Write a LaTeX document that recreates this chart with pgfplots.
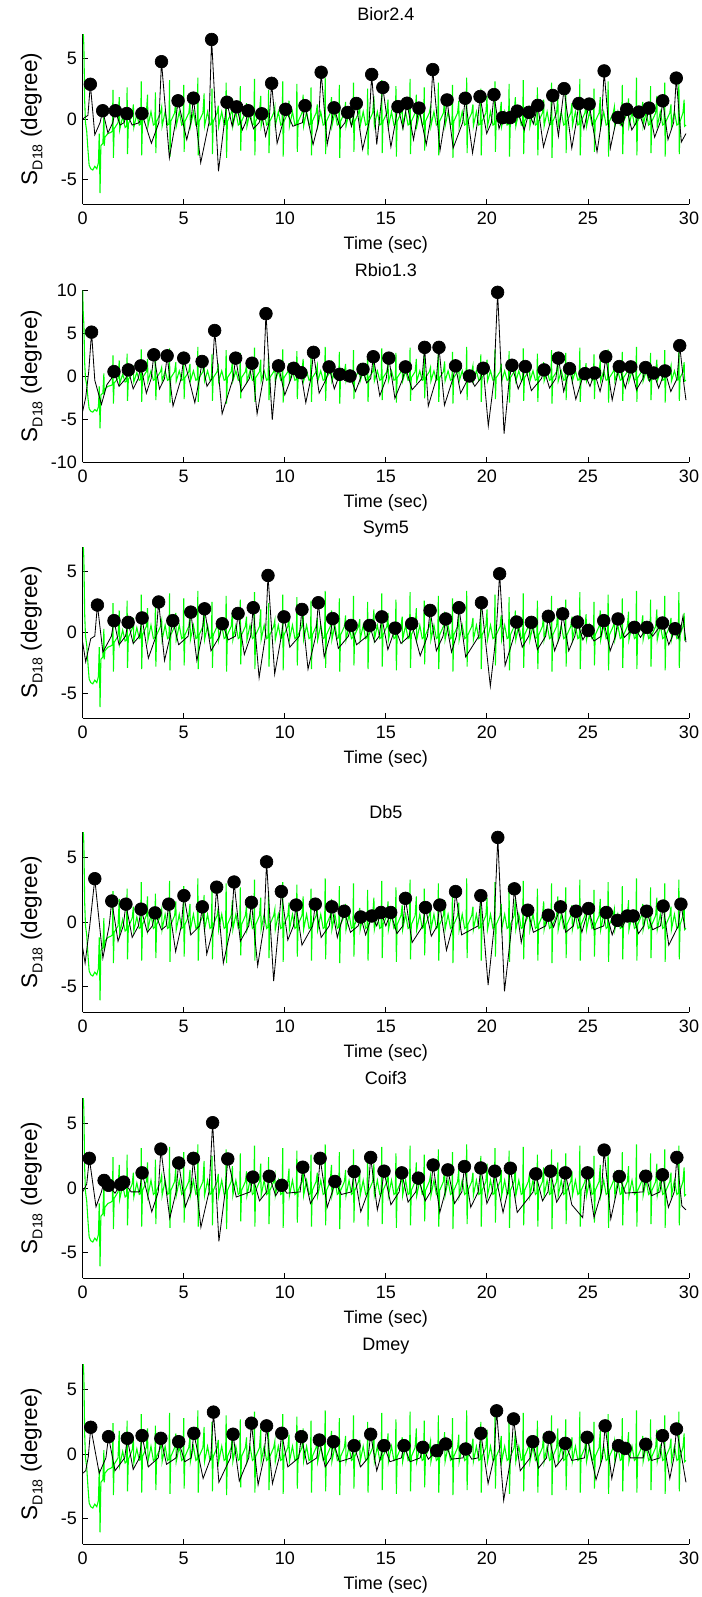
\documentclass[border=0pt]{standalone}
\usepackage{fontspec}
\setmainfont{Liberation Sans}
\usepackage{pgfplots}
\usepackage{pgfplotstable}
\pgfplotsset{compat=1.18}

% reference signal (green), same in all panels
\pgfplotstableread[row sep=\\]{
x y\\
0 10\\ 0.03 7.2\\ 0.06 6.0\\ 0.1 1.5\\ 0.14 -0.3\\ 0.2 -1.0\\ 0.26 -2.5\\ 0.32 -3.8\\ 0.4 -4.1\\ 0.5 -4.2\\ 0.6 -3.9\\ 0.7 -4.1\\ 0.78 -3.6\\ 0.82 -1.2\\ 0.86 -6.1\\ 0.9 -2.2\\ 1.0 -2.0\\ 1.05 0.3\\ 1.07 -2.2\\ 1.1 -1.5\\ 1.25 -1.2\\ 1.4 -1.1\\
1.47 -1.0\\ 1.5 2.4\\ 1.52 -3.2\\ 1.56 -0.8\\ 1.75 -0.3\\ 1.81 1.8\\ 1.83 -0.9\\ 1.98 0.2\\ 2.1 -0.7\\
2.17 -0.6\\ 2.2 2.6\\ 2.22 -2.9\\ 2.26 -0.4\\ 2.45 0.3\\ 2.51 1.2\\ 2.53 -0.7\\ 2.68 0.4\\ 2.8 -0.5\\
2.87 -0.4\\ 2.9 3.1\\ 2.92 -3.0\\ 2.96 -0.2\\ 3.15 0.5\\ 3.21 2.0\\ 3.23 -0.6\\ 3.38 0.6\\ 3.5 -0.5\\
3.57 -0.4\\ 3.6 2.2\\ 3.62 -2.8\\ 3.66 -0.2\\ 3.85 0.5\\ 3.91 1.0\\ 3.93 -0.6\\ 4.08 0.6\\ 4.2 -0.5\\
4.27 -0.4\\ 4.3 3.2\\ 4.32 -3.1\\ 4.36 -0.2\\ 4.55 0.5\\ 4.61 1.6\\ 4.63 -0.6\\ 4.78 0.6\\ 4.9 -0.5\\
4.97 -0.4\\ 5.0 2.8\\ 5.02 -2.7\\ 5.06 -0.2\\ 5.25 0.5\\ 5.31 1.4\\ 5.33 -0.6\\ 5.48 0.6\\ 5.6 -0.5\\
5.67 -0.4\\ 5.7 3.4\\ 5.72 -3.0\\ 5.76 -0.2\\ 5.95 0.5\\ 6.01 2.1\\ 6.03 -0.6\\ 6.18 0.6\\ 6.3 -0.5\\
6.37 -0.4\\ 6.4 2.5\\ 6.42 -2.9\\ 6.46 -0.2\\ 6.65 0.5\\ 6.71 1.1\\ 6.73 -0.6\\ 6.88 0.6\\ 7.0 -0.5\\
7.07 -0.4\\ 7.1 3.0\\ 7.12 -3.2\\ 7.16 -0.2\\ 7.35 0.5\\ 7.41 1.7\\ 7.43 -0.6\\ 7.58 0.6\\ 7.7 -0.5\\
7.77 -0.4\\ 7.8 2.7\\ 7.82 -2.6\\ 7.86 -0.2\\ 8.05 0.5\\ 8.11 1.3\\ 8.13 -0.6\\ 8.28 0.6\\ 8.4 -0.5\\
8.47 -0.4\\ 8.5 3.3\\ 8.52 -3.0\\ 8.56 -0.2\\ 8.75 0.5\\ 8.81 1.9\\ 8.83 -0.6\\ 8.98 0.6\\ 9.1 -0.5\\
9.17 -0.4\\ 9.2 2.4\\ 9.22 -2.8\\ 9.26 -0.2\\ 9.45 0.5\\ 9.51 1.0\\ 9.53 -0.6\\ 9.68 0.6\\ 9.8 -0.5\\
9.87 -0.4\\ 9.9 3.1\\ 9.92 -3.1\\ 9.96 -0.2\\ 10.15 0.5\\ 10.21 1.5\\ 10.23 -0.6\\ 10.38 0.6\\ 10.5 -0.5\\
10.57 -0.4\\ 10.6 2.9\\ 10.62 -2.7\\ 10.66 -0.2\\ 10.85 0.5\\ 10.91 2.0\\ 10.93 -0.6\\ 11.08 0.6\\ 11.2 -0.5\\
11.27 -0.4\\ 11.3 2.6\\ 11.32 -3.0\\ 11.36 -0.2\\ 11.55 0.5\\ 11.61 1.2\\ 11.63 -0.6\\ 11.78 0.6\\ 11.9 -0.5\\
11.97 -0.4\\ 12.0 3.4\\ 12.02 -2.9\\ 12.06 -0.2\\ 12.25 0.5\\ 12.31 1.8\\ 12.33 -0.6\\ 12.48 0.6\\ 12.6 -0.5\\
12.67 -0.4\\ 12.7 2.8\\ 12.72 -3.2\\ 12.76 -0.2\\ 12.95 0.5\\ 13.01 1.4\\ 13.03 -0.6\\ 13.18 0.6\\ 13.3 -0.5\\
13.37 -0.4\\ 13.4 3.0\\ 13.42 -2.7\\ 13.46 -0.2\\ 13.65 0.5\\ 13.71 1.1\\ 13.73 -0.6\\ 13.88 0.6\\ 14.0 -0.5\\
14.07 -0.4\\ 14.1 2.5\\ 14.12 -3.0\\ 14.16 -0.2\\ 14.35 0.5\\ 14.41 1.9\\ 14.43 -0.6\\ 14.58 0.6\\ 14.7 -0.5\\
14.77 -0.4\\ 14.8 3.2\\ 14.82 -2.8\\ 14.86 -0.2\\ 15.05 0.5\\ 15.11 1.6\\ 15.13 -0.6\\ 15.28 0.6\\ 15.4 -0.5\\
15.47 -0.4\\ 15.5 2.7\\ 15.52 -3.1\\ 15.56 -0.2\\ 15.75 0.5\\ 15.81 1.3\\ 15.83 -0.6\\ 15.98 0.6\\ 16.1 -0.5\\
16.17 -0.4\\ 16.2 3.3\\ 16.22 -2.9\\ 16.26 -0.2\\ 16.45 0.5\\ 16.51 2.0\\ 16.53 -0.6\\ 16.68 0.6\\ 16.8 -0.5\\
16.87 -0.4\\ 16.9 2.6\\ 16.92 -2.6\\ 16.96 -0.2\\ 17.15 0.5\\ 17.21 1.0\\ 17.23 -0.6\\ 17.38 0.6\\ 17.5 -0.5\\
17.57 -0.4\\ 17.6 3.0\\ 17.62 -3.0\\ 17.66 -0.2\\ 17.85 0.5\\ 17.91 1.7\\ 17.93 -0.6\\ 18.08 0.6\\ 18.2 -0.5\\
18.27 -0.4\\ 18.3 2.8\\ 18.32 -3.2\\ 18.36 -0.2\\ 18.55 0.5\\ 18.61 1.5\\ 18.63 -0.6\\ 18.78 0.6\\ 18.9 -0.5\\
18.97 -0.4\\ 19.0 3.4\\ 19.02 -2.8\\ 19.06 -0.2\\ 19.25 0.5\\ 19.31 1.2\\ 19.33 -0.6\\ 19.48 0.6\\ 19.6 -0.5\\
19.67 -0.4\\ 19.7 2.5\\ 19.72 -3.0\\ 19.76 -0.2\\ 19.95 0.5\\ 20.01 1.9\\ 20.03 -0.6\\ 20.18 0.6\\ 20.3 -0.5\\
20.37 -0.4\\ 20.4 3.1\\ 20.42 -2.7\\ 20.46 -0.2\\ 20.65 0.5\\ 20.71 1.4\\ 20.73 -0.6\\ 20.88 0.6\\ 21.0 -0.5\\
21.07 -0.4\\ 21.1 2.9\\ 21.12 -3.1\\ 21.16 -0.2\\ 21.35 0.5\\ 21.41 1.8\\ 21.43 -0.6\\ 21.58 0.6\\ 21.7 -0.5\\
21.77 -0.4\\ 21.8 3.2\\ 21.82 -2.9\\ 21.86 -0.2\\ 22.05 0.5\\ 22.11 1.1\\ 22.13 -0.6\\ 22.28 0.6\\ 22.4 -0.5\\
22.47 -0.4\\ 22.5 2.6\\ 22.52 -3.0\\ 22.56 -0.2\\ 22.75 0.5\\ 22.81 1.6\\ 22.83 -0.6\\ 22.98 0.6\\ 23.1 -0.5\\
23.17 -0.4\\ 23.2 3.0\\ 23.22 -3.2\\ 23.26 -0.2\\ 23.45 0.5\\ 23.51 2.0\\ 23.53 -0.6\\ 23.68 0.6\\ 23.8 -0.5\\
23.87 -0.4\\ 23.9 2.7\\ 23.92 -2.8\\ 23.96 -0.2\\ 24.15 0.5\\ 24.21 1.3\\ 24.23 -0.6\\ 24.38 0.6\\ 24.5 -0.5\\
24.57 -0.4\\ 24.6 3.3\\ 24.62 -3.0\\ 24.66 -0.2\\ 24.85 0.5\\ 24.91 1.5\\ 24.93 -0.6\\ 25.08 0.6\\ 25.2 -0.5\\
25.27 -0.4\\ 25.3 2.5\\ 25.32 -2.7\\ 25.36 -0.2\\ 25.55 0.5\\ 25.61 1.8\\ 25.63 -0.6\\ 25.78 0.6\\ 25.9 -0.5\\
25.97 -0.4\\ 26.0 3.1\\ 26.02 -3.1\\ 26.06 -0.2\\ 26.25 0.5\\ 26.31 1.0\\ 26.33 -0.6\\ 26.48 0.6\\ 26.6 -0.5\\
26.67 -0.4\\ 26.7 2.8\\ 26.72 -2.9\\ 26.76 -0.2\\ 26.95 0.5\\ 27.01 1.7\\ 27.03 -0.6\\ 27.18 0.6\\ 27.3 -0.5\\
27.37 -0.4\\ 27.4 3.4\\ 27.42 -3.0\\ 27.46 -0.2\\ 27.65 0.5\\ 27.71 1.4\\ 27.73 -0.6\\ 27.88 0.6\\ 28.0 -0.5\\
28.07 -0.4\\ 28.1 2.7\\ 28.12 -2.8\\ 28.16 -0.2\\ 28.35 0.5\\ 28.41 1.9\\ 28.43 -0.6\\ 28.58 0.6\\ 28.7 -0.5\\
28.77 -0.4\\ 28.8 3.0\\ 28.82 -3.1\\ 28.86 -0.2\\ 29.05 0.5\\ 29.11 1.2\\ 29.13 -0.6\\ 29.28 0.6\\ 29.4 -0.5\\
29.47 -0.4\\ 29.5 3.3\\ 29.52 -2.9\\ 29.56 -0.2\\ 29.7 0.5\\ 29.76 1.6\\ 29.78 -0.6\\ 29.85 -0.5\\
}\greentab

% Bior2.4
\pgfplotstableread[row sep=\\]{
x y d\\
0 0 nan\\ 0.26 0.3 nan\\ 0.38 2.86 2.86\\ 0.60 -1.3 nan\\
0.86 -0.3 nan\\ 0.99 0.68 0.68\\ 1.25 -1.15 nan\\
1.49 -0.3 nan\\ 1.62 0.68 0.68\\ 1.85 -0.5 nan\\
2.05 -0.3 nan\\ 2.18 0.45 0.45\\ 2.45 -0.5 nan\\
2.80 -0.3 nan\\ 2.93 0.45 0.45\\ 3.40 -2.0 nan\\
3.77 -0.3 nan\\ 3.90 4.72 4.72\\ 4.29 -3.2 nan\\
4.59 -0.3 nan\\ 4.72 1.50 1.50\\ 5.15 -1.7 nan\\
5.35 -0.3 nan\\ 5.48 1.72 1.72\\ 5.84 -3.6 nan\\
6.25 -0.3 nan\\ 6.38 6.55 6.55\\ 6.72 -4.3 nan\\
7.01 -0.3 nan\\ 7.14 1.38 1.38\\ 7.40 -0.6 nan\\
7.62 1.0 1.0\\ 7.90 -0.9 nan\\
8.06 -0.3 nan\\ 8.19 0.68 0.68\\ 8.45 -0.8 nan\\
8.73 -0.3 nan\\ 8.86 0.43 0.43\\ 9.05 -1.4 nan\\
9.22 -0.3 nan\\ 9.35 2.94 2.94\\ 9.62 -2.0 nan\\
9.91 -0.3 nan\\ 10.04 0.8 0.8\\ 10.4 -0.6 nan\\
10.87 -0.3 nan\\ 11.0 1.1 1.1\\ 11.4 -2.1 nan\\
11.67 -0.3 nan\\ 11.8 3.85 3.85\\ 12.1 -2.1 nan\\
12.31 -0.3 nan\\ 12.44 0.92 0.92\\ 12.75 -0.8 nan\\
12.98 -0.3 nan\\ 13.11 0.54 0.54\\ 13.3 -0.6 nan\\
13.54 1.28 1.28\\ 13.85 -2.5 nan\\
14.17 -0.3 nan\\ 14.3 3.67 3.67\\ 14.55 -2.1 nan\\
14.85 2.6 2.6\\ 15.25 -2.3 nan\\
15.47 -0.3 nan\\ 15.6 1.02 1.02\\ 15.85 -0.8 nan\\
16.05 1.3 1.3\\ 16.37 -1.7 nan\\
16.51 -0.3 nan\\ 16.64 0.9 0.9\\ 17.0 -2.1 nan\\
17.19 -0.3 nan\\ 17.32 4.07 4.07\\ 17.68 -2.6 nan\\
17.9 -0.3 nan\\ 18.03 1.57 1.57\\ 18.33 -2.4 nan\\
18.8 -0.3 nan\\ 18.93 1.71 1.71\\ 19.29 -2.8 nan\\
19.53 -0.3 nan\\ 19.66 1.85 1.85\\ 19.99 -1.2 nan\\
20.22 -0.3 nan\\ 20.35 2.01 2.01\\ 20.6 -0.8 nan\\
20.78 0.11 0.11\\ 21.0 -0.3 nan\\
21.15 0.11 0.11\\ 21.33 -0.2 nan\\
21.5 0.65 0.65\\ 21.85 -0.9 nan\\
22.08 0.55 0.55\\ 22.3 -0.4 nan\\
22.52 1.12 1.12\\ 22.8 -2.3 nan\\
23.13 -0.3 nan\\ 23.26 1.94 1.94\\ 23.54 -1.4 nan\\
23.82 2.5 2.5\\ 24.2 -2.4 nan\\
24.42 -0.3 nan\\ 24.55 1.28 1.28\\ 24.8 -0.8 nan\\
25.06 1.23 1.23\\ 25.45 -2.7 nan\\
25.67 -0.3 nan\\ 25.8 3.96 3.96\\ 26.11 -2.4 nan\\
26.36 -0.4 nan\\ 26.49 0.13 0.13\\ 26.7 -0.6 nan\\
26.92 0.8 0.8\\ 27.17 -0.9 nan\\
27.39 -0.3 nan\\ 27.52 0.57 0.57\\ 27.8 -0.8 nan\\
28.02 0.9 0.9\\ 28.3 -1.5 nan\\
28.57 -0.3 nan\\ 28.7 1.5 1.5\\ 28.96 -1.7 nan\\
29.24 -0.3 nan\\ 29.37 3.37 3.37\\ 29.62 -1.9 nan\\
29.85 -1.2 nan\\
}\tbior

% Rbio1.3
\pgfplotstableread[row sep=\\]{
x y d\\
0 -4.1 nan\\ 0.15 -2.5 nan\\ 0.3 0.5 nan\\ 0.44 5.1 5.1\\ 0.6 -0.5 nan\\ 0.93 -3.3 nan\\ 1.2 -1.0 nan\\
1.42 -0.3 nan\\ 1.55 0.51 0.51\\ 1.8 -1.2 nan\\
2.13 -0.3 nan\\ 2.26 0.71 0.71\\ 2.5 -1.5 nan\\
2.75 -0.3 nan\\ 2.88 1.18 1.18\\ 3.15 -2.0 nan\\
3.39 -0.3 nan\\ 3.52 2.47 2.47\\ 3.8 -1.5 nan\\
4.05 -0.3 nan\\ 4.18 2.35 2.35\\ 4.47 -3.5 nan\\
4.87 -0.3 nan\\ 5.0 2.08 2.08\\ 5.55 -3.1 nan\\
5.78 -0.3 nan\\ 5.91 1.69 1.69\\ 6.15 -1.2 nan\\
6.40 -0.3 nan\\ 6.53 5.29 5.29\\ 6.9 -4.4 nan\\
7.44 -0.3 nan\\ 7.57 2.08 2.08\\ 7.85 -1.8 nan\\
8.25 -0.3 nan\\ 8.38 1.49 1.49\\ 8.63 -4.4 nan\\
8.94 -0.3 nan\\ 9.07 7.25 7.25\\ 9.38 -5.1 nan\\
9.56 -0.3 nan\\ 9.69 1.18 1.18\\ 10.0 -2.2 nan\\
10.31 -0.3 nan\\ 10.44 0.9 0.9\\ 10.6 -0.2 nan\\
10.80 0.39 0.39\\ 11.04 -3.1 nan\\
11.29 -0.3 nan\\ 11.42 2.75 2.75\\ 11.7 -2.0 nan\\
12.06 -0.3 nan\\ 12.19 1.06 1.06\\ 12.45 -1.5 nan\\
12.72 0.2 0.2\\ 12.95 -0.5 nan\\
13.23 0 0\\ 13.5 -1.8 nan\\
13.74 -0.3 nan\\ 13.87 0.78 0.78\\ 14.05 -0.8 nan\\
14.25 -0.3 nan\\ 14.38 2.24 2.24\\ 14.7 -2.3 nan\\
15.02 -0.3 nan\\ 15.15 2.08 2.08\\ 15.45 -2.6 nan\\
15.84 -0.3 nan\\ 15.97 1.06 1.06\\ 16.3 -1.6 nan\\
16.79 -0.3 nan\\ 16.92 3.33 3.33\\ 17.1 -3.5 nan\\
17.5 -0.3 nan\\ 17.63 3.33 3.33\\ 17.9 -3.4 nan\\
18.32 -0.3 nan\\ 18.45 1.18 1.18\\ 18.7 -2.0 nan\\
19.14 0 0\\ 19.4 -1.2 nan\\
19.69 -0.3 nan\\ 19.82 0.9 0.9\\ 20.07 -5.8 nan\\
20.35 -0.5 nan\\ 20.53 9.73 9.73\\ 20.85 -6.7 nan\\
21.11 -0.3 nan\\ 21.24 1.25 1.25\\ 21.55 -1.5 nan\\
21.77 -0.3 nan\\ 21.90 1.1 1.1\\ 22.2 -1.7 nan\\
22.70 -0.3 nan\\ 22.83 0.71 0.71\\ 23.1 -1.4 nan\\
23.41 -0.3 nan\\ 23.54 2.08 2.08\\ 23.8 -1.8 nan\\
24.09 0.86 0.86\\ 24.4 -2.7 nan\\
24.72 -0.3 nan\\ 24.85 0.27 0.27\\ 25.1 -1.2 nan\\
25.33 0.35 0.35\\ 25.6 -1.8 nan\\
25.75 -0.3 nan\\ 25.88 2.24 2.24\\ 26.2 -2.8 nan\\
26.42 -0.3 nan\\ 26.55 1.1 1.1\\ 26.85 -1.4 nan\\
27.12 1.06 1.06\\ 27.4 -1.6 nan\\
27.72 -0.3 nan\\ 27.85 0.98 0.98\\ 28.05 -0.6 nan\\
28.25 0.35 0.35\\ 28.5 -1.4 nan\\
28.81 0.59 0.59\\ 29.1 -1.8 nan\\
29.41 -0.3 nan\\ 29.54 3.53 3.53\\ 29.75 -1.0 nan\\ 29.85 -2.8 nan\\
}\trbio

% Sym5
\pgfplotstableread[row sep=\\]{
x y d\\
0 -0.8 nan\\ 0.15 -2.4 nan\\ 0.4 -0.5 nan\\ 0.6 -0.3 nan\\ 0.73 2.25 2.25\\ 1.0 -1.6 nan\\
1.42 -0.3 nan\\ 1.55 0.97 0.97\\ 1.8 -1.0 nan\\
2.12 -0.3 nan\\ 2.25 0.83 0.83\\ 2.5 -0.9 nan\\
2.81 -0.3 nan\\ 2.94 1.19 1.19\\ 3.25 -2.1 nan\\
3.63 -0.3 nan\\ 3.76 2.5 2.5\\ 4.05 -2.3 nan\\
4.33 -0.3 nan\\ 4.46 0.97 0.97\\ 4.75 -1.0 nan\\
5.22 -0.3 nan\\ 5.35 1.67 1.67\\ 5.65 -2.3 nan\\
5.90 -0.3 nan\\ 6.03 1.94 1.94\\ 6.35 -1.5 nan\\
6.78 -0.3 nan\\ 6.91 0.72 0.72\\ 7.2 -0.6 nan\\
7.56 -0.3 nan\\ 7.69 1.56 1.56\\ 8.0 -1.8 nan\\
8.31 -0.3 nan\\ 8.44 2.03 2.03\\ 8.73 -3.7 nan\\
9.04 -0.3 nan\\ 9.17 4.67 4.67\\ 9.5 -3.4 nan\\
9.83 -0.3 nan\\ 9.96 1.28 1.28\\ 10.25 -1.2 nan\\
10.72 -0.3 nan\\ 10.85 1.89 1.89\\ 11.15 -3.0 nan\\
11.53 -0.3 nan\\ 11.66 2.44 2.44\\ 11.95 -2.0 nan\\
12.24 -0.3 nan\\ 12.37 1.14 1.14\\ 12.65 -1.3 nan\\
13.15 -0.3 nan\\ 13.28 0.58 0.58\\ 13.55 -1.0 nan\\
14.07 -0.3 nan\\ 14.2 0.58 0.58\\ 14.45 -0.8 nan\\
14.67 -0.3 nan\\ 14.8 1.28 1.28\\ 15.1 -1.4 nan\\
15.33 -0.3 nan\\ 15.46 0.36 0.36\\ 15.75 -0.9 nan\\
16.15 -0.3 nan\\ 16.28 0.72 0.72\\ 16.7 -1.9 nan\\
17.06 -0.3 nan\\ 17.19 1.81 1.81\\ 17.5 -1.5 nan\\
17.83 -0.3 nan\\ 17.96 1.11 1.11\\ 18.25 -1.6 nan\\
18.49 -0.3 nan\\ 18.62 2.03 2.03\\ 18.95 -2.0 nan\\
19.6 -0.3 nan\\ 19.73 2.44 2.44\\ 20.17 -4.4 nan\\
20.45 -0.3 nan\\ 20.63 4.81 4.81\\ 20.9 -2.7 nan\\
21.34 -0.3 nan\\ 21.47 0.86 0.86\\ 21.75 -1.2 nan\\
22.07 -0.3 nan\\ 22.2 0.83 0.83\\ 22.5 -1.4 nan\\
22.91 -0.3 nan\\ 23.04 1.33 1.33\\ 23.35 -1.5 nan\\
23.62 -0.3 nan\\ 23.75 1.53 1.53\\ 24.05 -1.5 nan\\
24.35 -0.3 nan\\ 24.48 0.86 0.86\\ 24.75 -0.6 nan\\
25.01 0.17 0.17\\ 25.3 -0.7 nan\\
25.65 -0.3 nan\\ 25.78 0.97 0.97\\ 26.1 -1.5 nan\\
26.36 -0.3 nan\\ 26.49 1.11 1.11\\ 26.8 -0.4 nan\\
27.3 0.42 0.42\\ 27.6 -0.4 nan\\
27.92 0.42 0.42\\ 28.2 -0.3 nan\\
28.69 0.78 0.78\\ 29.0 -1.0 nan\\
29.18 -0.3 nan\\ 29.31 0.31 0.31\\ 29.5 -0.5 nan\\ 29.7 1.3 nan\\ 29.85 -0.8 nan\\
}\tsym

% Db5
\pgfplotstableread[row sep=\\]{
x y d\\
0 -2.0 nan\\ 0.12 -3.2 nan\\ 0.35 -0.3 nan\\ 0.6 3.37 3.37\\ 1.0 -2.8 nan\\
1.31 -0.3 nan\\ 1.44 1.63 1.63\\ 1.75 -1.5 nan\\
2.01 -0.3 nan\\ 2.14 1.39 1.39\\ 2.45 -1.2 nan\\
2.76 -0.3 nan\\ 2.89 1.0 1.0\\ 3.2 -0.8 nan\\
3.45 -0.3 nan\\ 3.58 0.71 0.71\\ 3.9 -0.6 nan\\
4.13 -0.3 nan\\ 4.26 1.39 1.39\\ 4.6 -2.3 nan\\
4.88 -0.3 nan\\ 5.01 2.05 2.05\\ 5.35 -1.0 nan\\
5.79 -0.3 nan\\ 5.92 1.18 1.18\\ 6.14 -2.5 nan\\
6.5 -0.3 nan\\ 6.63 2.71 2.71\\ 6.96 -3.2 nan\\
7.36 -0.3 nan\\ 7.49 3.11 3.11\\ 7.8 -1.5 nan\\
8.22 -0.3 nan\\ 8.35 1.53 1.53\\ 8.66 -3.4 nan\\
8.97 -0.3 nan\\ 9.1 4.68 4.68\\ 9.45 -4.6 nan\\
9.7 -0.3 nan\\ 9.83 2.37 2.37\\ 10.15 -1.4 nan\\
10.43 -0.3 nan\\ 10.56 1.32 1.32\\ 10.85 -1.8 nan\\
11.38 -0.3 nan\\ 11.51 1.39 1.39\\ 11.8 -1.2 nan\\
12.2 -0.3 nan\\ 12.33 1.18 1.18\\ 12.6 -1.2 nan\\
12.94 0.84 0.84\\ 13.25 -0.8 nan\\
13.63 -0.3 nan\\ 13.76 0.39 0.39\\ 14.0 -1.0 nan\\
14.31 0.47 0.47\\ 14.55 -0.3 nan\\
14.76 0.74 0.74\\ 15.0 -0.3 nan\\
15.24 0.74 0.74\\ 15.55 -0.9 nan\\
15.84 -0.3 nan\\ 15.97 1.84 1.84\\ 16.3 -1.6 nan\\
16.83 -0.3 nan\\ 16.96 1.13 1.13\\ 17.25 -1.1 nan\\
17.54 -0.3 nan\\ 17.67 1.32 1.32\\ 18.0 -2.2 nan\\
18.32 -0.3 nan\\ 18.45 2.37 2.37\\ 18.75 -1.0 nan\\
19.57 -0.3 nan\\ 19.7 2.05 2.05\\ 20.06 -4.9 nan\\
20.35 -0.5 nan\\ 20.54 6.58 6.58\\ 20.87 -5.4 nan\\
21.23 -0.3 nan\\ 21.36 2.58 2.58\\ 21.7 -1.6 nan\\
22.02 0.92 0.92\\ 22.3 -0.8 nan\\
22.91 -0.3 nan\\ 23.04 0.53 0.53\\ 23.3 -0.4 nan\\
23.64 1.18 1.18\\ 23.9 -0.8 nan\\
24.28 -0.3 nan\\ 24.41 0.84 0.84\\ 24.7 -0.8 nan\\
25.03 1.05 1.05\\ 25.3 -0.6 nan\\
25.78 -0.3 nan\\ 25.91 0.74 0.74\\ 26.2 -1.0 nan\\
26.46 0.13 0.13\\ 26.7 -0.4 nan\\
26.95 0.47 0.47\\ 27.1 0.2 nan\\
27.24 0.47 0.47\\ 27.5 -0.9 nan\\
27.77 -0.3 nan\\ 27.9 0.84 0.84\\ 28.2 -0.6 nan\\
28.59 -0.3 nan\\ 28.72 1.24 1.24\\ 29.0 -1.8 nan\\
29.47 -0.3 nan\\ 29.6 1.39 1.39\\ 29.8 -0.5 nan\\
}\tdb

% Coif3
\pgfplotstableread[row sep=\\]{
x y d\\
0 -0.3 nan\\ 0.2 0.3 nan\\ 0.33 2.31 2.31\\ 0.66 -1.46 nan\\
0.93 -0.3 nan\\ 1.06 0.59 0.59\\ 1.17 0.1 nan\\ 1.28 0.21 0.21\\ 1.6 -0.4 nan\\
1.88 0.28 0.28\\ 1.95 0.2 nan\\ 2.03 0.46 0.46\\ 2.4 -0.3 nan\\
2.81 -0.3 nan\\ 2.94 1.18 1.18\\ 3.42 -1.85 nan\\
3.74 -0.3 nan\\ 3.87 3.03 3.03\\ 4.31 -2.36 nan\\
4.62 -0.3 nan\\ 4.75 1.95 1.95\\ 5.08 -1.46 nan\\
5.35 -0.3 nan\\ 5.48 2.31 2.31\\ 5.85 -3.05 nan\\
6.25 -0.3 nan\\ 6.43 5.08 5.08\\ 6.74 -4.15 nan\\
7.05 -0.3 nan\\ 7.18 2.26 2.26\\ 7.6 -0.7 nan\\
8.29 -0.3 nan\\ 8.42 0.85 0.85\\ 8.75 -1.0 nan\\
9.1 -0.3 nan\\ 9.23 0.92 0.92\\ 9.55 -0.6 nan\\
9.85 0.21 0.21\\ 10.1 -0.4 nan\\
10.76 -0.3 nan\\ 10.89 1.62 1.62\\ 11.27 -1.2 nan\\
11.62 -0.3 nan\\ 11.75 2.31 2.31\\ 12.1 -1.5 nan\\
12.35 -0.3 nan\\ 12.48 0.51 0.51\\ 12.8 -0.5 nan\\
13.3 -0.3 nan\\ 13.43 1.28 1.28\\ 13.76 -1.85 nan\\
14.12 -0.3 nan\\ 14.25 2.38 2.38\\ 14.58 -1.7 nan\\
14.78 -0.3 nan\\ 14.91 1.31 1.31\\ 15.25 -1.3 nan\\
15.66 -0.3 nan\\ 15.79 1.18 1.18\\ 16.1 -1.1 nan\\
16.48 -0.3 nan\\ 16.61 0.77 0.77\\ 16.95 -1.0 nan\\
17.21 -0.3 nan\\ 17.34 1.79 1.79\\ 17.67 -1.9 nan\\
17.94 -0.3 nan\\ 18.07 1.41 1.41\\ 18.4 -1.2 nan\\
18.76 -0.3 nan\\ 18.89 1.67 1.67\\ 19.2 -1.5 nan\\
19.57 -0.3 nan\\ 19.7 1.56 1.56\\ 20.0 -1.2 nan\\
20.26 -0.3 nan\\ 20.39 1.31 1.31\\ 20.8 -1.9 nan\\
21.03 -0.3 nan\\ 21.16 1.54 1.54\\ 21.5 -1.9 nan\\
22.29 -0.3 nan\\ 22.42 1.1 1.1\\ 22.75 -1.0 nan\\
23.02 -0.3 nan\\ 23.15 1.31 1.31\\ 23.45 -1.1 nan\\
23.75 -0.3 nan\\ 23.88 1.18 1.18\\ 24.2 -1.3 nan\\
24.74 -2.3 nan\\ 24.85 -0.3 nan\\ 24.98 1.18 1.18\\ 25.3 -2.3 nan\\
25.67 -0.3 nan\\ 25.8 2.95 2.95\\ 26.13 -2.4 nan\\
26.42 -0.3 nan\\ 26.55 0.9 0.9\\ 26.85 -0.4 nan\\
27.73 -0.3 nan\\ 27.86 0.92 0.92\\ 28.15 -0.6 nan\\
28.56 -0.3 nan\\ 28.69 1.03 1.03\\ 28.98 -1.5 nan\\
29.27 -0.3 nan\\ 29.4 2.38 2.38\\ 29.65 -1.4 nan\\ 29.85 -1.7 nan\\
}\tcoif

% Dmey
\pgfplotstableread[row sep=\\]{
x y d\\
0 -1.5 nan\\ 0.15 -1.3 nan\\ 0.28 -0.2 nan\\ 0.4 2.08 2.08\\ 0.82 -1.5 nan\\
1.15 -0.3 nan\\ 1.28 1.35 1.35\\ 1.6 -1.3 nan\\
2.08 -0.3 nan\\ 2.21 1.22 1.22\\ 2.5 -1.2 nan\\
2.81 -0.3 nan\\ 2.94 1.43 1.43\\ 3.25 -1.0 nan\\
3.74 -0.3 nan\\ 3.87 1.22 1.22\\ 4.15 -0.8 nan\\
4.62 -0.3 nan\\ 4.75 0.96 0.96\\ 5.05 -0.6 nan\\
5.37 -0.3 nan\\ 5.5 1.61 1.61\\ 5.96 -1.9 nan\\
6.34 -0.3 nan\\ 6.47 3.26 3.26\\ 6.74 -2.2 nan\\
7.31 -0.3 nan\\ 7.44 1.54 1.54\\ 7.75 -2.1 nan\\
8.22 -0.3 nan\\ 8.35 2.4 2.4\\ 8.68 -2.4 nan\\
8.97 -0.3 nan\\ 9.1 2.19 2.19\\ 9.39 -2.3 nan\\
9.72 -0.3 nan\\ 9.85 1.61 1.61\\ 10.15 -1.0 nan\\
10.69 -0.3 nan\\ 10.82 1.35 1.35\\ 11.1 -0.8 nan\\
11.58 -0.3 nan\\ 11.71 1.09 1.09\\ 12.0 -1.0 nan\\
12.28 -0.3 nan\\ 12.41 0.96 0.96\\ 12.7 -0.6 nan\\
13.3 -0.3 nan\\ 13.43 0.65 0.65\\ 13.75 -1.0 nan\\
14.12 -0.3 nan\\ 14.25 1.54 1.54\\ 14.55 -1.3 nan\\
14.91 0.65 0.65\\ 15.2 -0.6 nan\\
15.77 -0.3 nan\\ 15.9 0.65 0.65\\ 16.2 -0.6 nan\\
16.7 -0.3 nan\\ 16.83 0.52 0.52\\ 17.1 -0.4 nan\\
17.52 0.26 0.26\\ 17.7 -0.2 nan\\
17.96 0.78 0.78\\ 18.25 -0.4 nan\\
18.82 -0.3 nan\\ 18.95 0.39 0.39\\ 19.25 -0.4 nan\\
19.57 -0.3 nan\\ 19.7 1.61 1.61\\ 20.06 -2.3 nan\\
20.35 -0.3 nan\\ 20.48 3.36 3.36\\ 20.83 -3.6 nan\\
21.19 -0.3 nan\\ 21.32 2.73 2.73\\ 21.65 -1.3 nan\\
22.14 -0.3 nan\\ 22.27 0.96 0.96\\ 22.55 -1.1 nan\\
22.95 -0.3 nan\\ 23.08 1.3 1.3\\ 23.4 -1.0 nan\\
23.75 -0.3 nan\\ 23.88 0.83 0.83\\ 24.2 -0.5 nan\\
24.83 -0.3 nan\\ 24.96 1.3 1.3\\ 25.4 -2.0 nan\\
25.72 -0.3 nan\\ 25.85 2.19 2.19\\ 26.18 -1.9 nan\\
26.51 0.65 0.65\\ 26.7 0.2 nan\\
26.84 0.44 0.44\\ 27.1 -0.3 nan\\
27.73 -0.3 nan\\ 27.86 0.76 0.76\\ 28.15 -0.5 nan\\
28.56 -0.3 nan\\ 28.69 1.43 1.43\\ 29.05 -1.9 nan\\
29.25 -0.3 nan\\ 29.38 1.95 1.95\\ 29.7 -0.8 nan\\ 29.85 -2.2 nan\\
}\tdmey

\pgfplotsset{
  panel/.style={
    scale only axis, width=363.8pt, anchor=north west,
    xmin=0, xmax=30,
    axis x line=bottom, axis y line=left,
    axis line style={-, line width=0.5pt},
    tick align=inside, major tick length=3pt,
    tick style={black, line width=0.5pt},
    xtick={0,5,...,30},
    /pgf/number format/assume math mode=true,
    tick label style={font=\fontsize{10.8}{13}\selectfont},
    xticklabel style={yshift=-1.5pt},
    xlabel={Time (sec)},
    xlabel style={font=\fontsize{10.8}{13}\selectfont, at={(axis description cs:0.5,0)}, anchor=base, yshift=-27pt},
    ylabel={S\raisebox{-0.45ex}{\fontsize{8.5}{9}\selectfont D18} (degree)},
    ylabel style={font=\fontsize{13.5}{16}\selectfont, at={(axis description cs:-0.084,0.5)}, anchor=center},
    title style={font=\fontsize{10.8}{13}\selectfont, at={(axis description cs:0.5,1)}, anchor=base, yshift=2pt},
  },
  std/.style={ymin=-7, ymax=7, ytick={-5,0,5}},
  gline/.style={color=green, line width=0.65pt},
  kline/.style={black, line width=0.5pt},
  dots/.style={only marks, mark=*, mark size=3.8pt, black},
}

\begin{document}
\begin{tikzpicture}
\useasboundingbox (0,0) rectangle (420.6pt,-958.2pt);

\begin{axis}[panel, std, at={(49.6pt,-20.4pt)}, height=102pt, title={Bior2.4}]
\addplot[gline] table[x=x,y=y]{\greentab};
\addplot[kline] table[x=x,y=y]{\tbior};
\addplot[dots] table[x=x,y=d]{\tbior};
\end{axis}

\begin{axis}[panel, at={(49.6pt,-174pt)}, height=103.2pt, title={Rbio1.3}, ymin=-10, ymax=10, ytick={-10,-5,0,5,10}]
\addplot[gline] table[x=x,y=y]{\greentab};
\addplot[kline] table[x=x,y=y]{\trbio};
\addplot[dots] table[x=x,y=d]{\trbio};
\end{axis}

\begin{axis}[panel, std, at={(49.6pt,-328.2pt)}, height=102.6pt, title={Sym5}]
\addplot[gline] table[x=x,y=y]{\greentab};
\addplot[kline] table[x=x,y=y]{\tsym};
\addplot[dots] table[x=x,y=d]{\tsym};
\end{axis}

\begin{axis}[panel, std, at={(49.6pt,-499.2pt)}, height=108pt, title={Db5}]
\addplot[gline] table[x=x,y=y]{\greentab};
\addplot[kline] table[x=x,y=y]{\tdb};
\addplot[dots] table[x=x,y=d]{\tdb};
\end{axis}

\begin{axis}[panel, std, at={(49.6pt,-658.8pt)}, height=108pt, title={Coif3}]
\addplot[gline] table[x=x,y=y]{\greentab};
\addplot[kline] table[x=x,y=y]{\tcoif};
\addplot[dots] table[x=x,y=d]{\tcoif};
\end{axis}

\begin{axis}[panel, std, at={(49.6pt,-818.4pt)}, height=108pt, title={Dmey}]
\addplot[gline] table[x=x,y=y]{\greentab};
\addplot[kline] table[x=x,y=y]{\tdmey};
\addplot[dots] table[x=x,y=d]{\tdmey};
\end{axis}
\end{tikzpicture}
\end{document}
